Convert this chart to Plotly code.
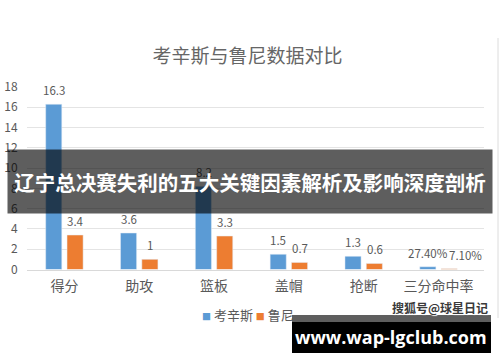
import plotly.graph_objects as go

categories = ["得分", "助攻", "篮板", "盖帽", "抢断", "三分命中率"]
cousins = [16.3, 3.6, 8.2, 1.5, 1.3, 0.274]
rooney = [3.4, 1, 3.3, 0.7, 0.6, 0.071]
cousins_labels = ["16.3", "3.6", "8.2", "1.5", "1.3", "27.40%"]
rooney_labels = ["3.4", "1", "3.3", "0.7", "0.6", "7.10%"]
y_ticks = [0, 2, 4, 6, 8, 10, 12, 14, 16, 18]
series_names = ["考辛斯", "鲁尼"]

W, H = 500, 362
FONT = "Noto Sans CJK SC"
BLUE = "#5b9bd5"
ORANGE = "#ed7d31"
GRAY = "#595959"

def px(x):
    return x / W

def py(y):
    return 1 - y / H

fig = go.Figure()
fig.add_trace(go.Bar(x=categories, y=cousins, name=series_names[0], marker_color=BLUE,
                     width=0.215, offset=-0.25, showlegend=False))
fig.add_trace(go.Bar(x=categories, y=rooney, name=series_names[1], marker_color=ORANGE,
                     width=0.215, offset=0.035, showlegend=False))

annotations = []
for i, c in enumerate(categories):
    annotations.append(dict(x=c, y=cousins[i], text=cousins_labels[i], xref="x", yref="y",
                            xshift=-10.5, yshift=14, showarrow=False, yanchor="middle",
                            font=dict(size=11.5, color=GRAY, family=FONT)))
    extra = 16 if i == len(categories) - 1 else 0
    annotations.append(dict(x=c, y=rooney[i], text=rooney_labels[i], xref="x", yref="y",
                            xshift=11 + extra, yshift=14, showarrow=False, yanchor="middle",
                            font=dict(size=11.5, color=GRAY, family=FONT)))

# legend (manual, small squares as in the reference)
annotations.append(dict(x=px(248), y=py(314), xref="paper", yref="paper", showarrow=False,
                        xanchor="center", yanchor="middle",
                        text=(f"<span style='color:{BLUE};font-size:9px'>■</span> {series_names[0]} "
                              f"<span style='color:{ORANGE};font-size:9px'>■</span> {series_names[1]}"),
                        font=dict(size=13, color=GRAY, family=FONT)))

# banner (drawn after the data labels so it covers them)
annotations.append(dict(x=0.5, y=py(181.5), xref="paper", yref="paper", showarrow=False,
                        text="<b>辽宁总决赛失利的五大关键因素解析及影响深度剖析</b>",
                        font=dict(size=20.5, color="white", family=FONT),
                        width=484, height=63, bgcolor="rgba(0,0,0,0.63)", borderpad=0,
                        xanchor="center", yanchor="middle", align="center", valign="middle"))
# watermark
annotations.append(dict(x=px(490), y=py(307), xref="paper", yref="paper", showarrow=False,
                        text="<b>搜狐号@球星日记</b>", xanchor="right", yanchor="middle",
                        font=dict(size=12, color="#3a3a3a", family=FONT,
                                  shadow="1px 1px 1px white")))
# url box text
annotations.append(dict(x=px(391), y=py(337), xref="paper", yref="paper", showarrow=False,
                        text="<b>www.wap-lgclub.com</b>", xanchor="center", yanchor="middle",
                        font=dict(size=18, color="white", family="Open Sans")))

shapes = [
    dict(type="line", xref="paper", yref="paper", x0=px(498), x1=px(498), y0=py(38), y1=py(318),
         line=dict(color="#dcdcdc", width=1)),
    dict(type="rect", xref="paper", yref="paper", x0=px(292), x1=px(491), y0=py(315), y1=py(322),
         fillcolor="rgba(0,0,0,0.63)", line=dict(width=0), layer="above"),
    dict(type="rect", xref="paper", yref="paper", x0=px(292), x1=px(491), y0=py(322), y1=py(353),
         fillcolor="black", line=dict(width=0), layer="above"),
]

fig.update_layout(
    width=W, height=H,
    margin=dict(l=0, r=0, t=0, b=0, autoexpand=False),
    paper_bgcolor="white", plot_bgcolor="white",
    font=dict(family=FONT, color=GRAY),
    title=dict(text="考辛斯与鲁尼数据对比", x=0.495, y=py(56), xanchor="center", yanchor="middle",
               font=dict(size=19, color="#666666", family=FONT)),
    xaxis=dict(domain=[px(27), px(484)], showgrid=False, showline=True, linecolor="#d9d9d9",
               ticks="outside", ticklen=4, tickcolor="rgba(0,0,0,0)",
               tickfont=dict(size=14, color=GRAY), fixedrange=True),
    yaxis=dict(domain=[py(269.5), py(87)], range=[0, 18], tickvals=y_ticks,
               showgrid=True, gridcolor="#e4e4e4", gridwidth=1, zeroline=False,
               ticks="outside", ticklen=6, tickcolor="rgba(0,0,0,0)",
               tickfont=dict(size=12, color=GRAY), fixedrange=True),
    showlegend=False,
    annotations=annotations,
    shapes=shapes,
)

fig.write_html("out.html", config={"displayModeBar": False},
               post_script="document.body.style.margin='0';document.body.style.padding='0';")
